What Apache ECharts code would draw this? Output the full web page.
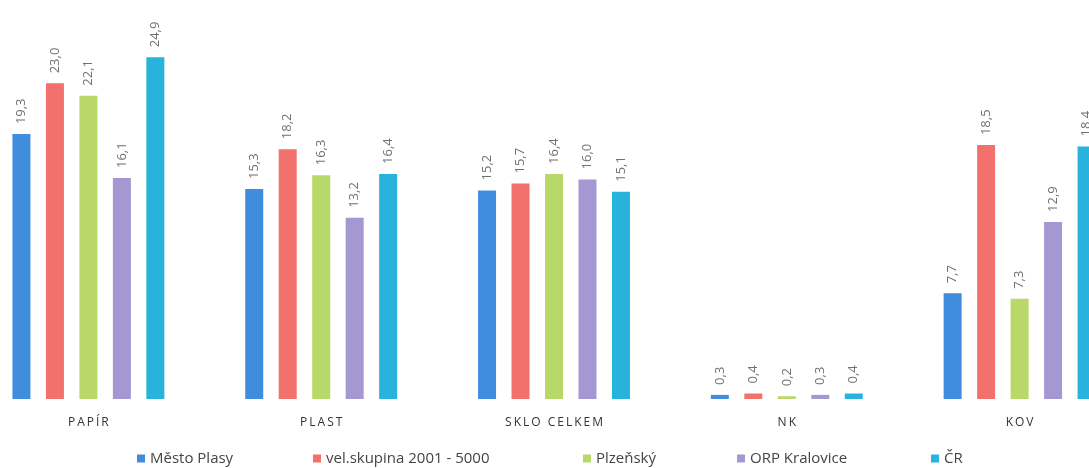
<!DOCTYPE html>
<html>
<head>
<meta charset="utf-8">
<script src="https://cdn.jsdelivr.net/npm/echarts@6/dist/echarts.min.js"></script>
<style>
html,body{margin:0;padding:0;background:#fff;overflow:hidden;width:1089px;height:468px;}
#chart{position:absolute;left:-28px;top:0;width:1164px;height:468px;}
</style>
</head>
<body>
<div id="chart"></div>
<script>
const categories = ['PAPÍR', 'PLAST', 'SKLO CELKEM', 'NK', 'KOV'];
const seriesNames = ['Město Plasy', 'vel.skupina 2001 - 5000', 'Plzeňský', 'ORP Kralovice', 'ČR'];
const mestoPlasy = [19.3, 15.3, 15.2, 0.3, 7.7];
const velSkupina = [23.0, 18.2, 15.7, 0.4, 18.5];
const plzensky   = [22.1, 16.3, 16.4, 0.2, 7.3];
const orpKralovice = [16.1, 13.2, 16.0, 0.3, 12.9];
const cr = [24.9, 16.4, 15.1, 0.4, 18.4];

const values = [mestoPlasy, velSkupina, plzensky, orpKralovice, cr];
const colors = ['#3f8ddc', '#f2716c', '#b8d86a', '#a597d2', '#27b3dc'];
const legendLeft = [165, 341, 611, 765, 959];

const chart = echarts.init(document.getElementById('chart'), null, {renderer: 'canvas'});
chart.setOption({
  animation: false,
  backgroundColor: '#ffffff',
  grid: {left: 0, right: 0, top: 1, bottom: 69, containLabel: false},
  xAxis: {
    type: 'category',
    data: categories,
    axisLine: {show: false},
    axisTick: {show: false},
    axisLabel: {
      color: '#333',
      fontSize: 12,
      fontFamily: 'Open Sans',
      margin: 18,
      formatter: v => v.split('').join('\u2009')
    }
  },
  yAxis: {type: 'value', min: 0, max: 29, show: false, splitLine: {show: false}},
  legend: seriesNames.map((n, i) => ({
    data: [n],
    top: 451,
    left: legendLeft[i],
    padding: 0,
    itemWidth: 8,
    itemHeight: 8,
    itemGap: 5,
    icon: 'rect',
    textStyle: {color: '#444', fontSize: 15, fontFamily: 'Open Sans'}
  })),
  series: seriesNames.map((n, i) => ({
    name: n,
    type: 'bar',
    data: values[i],
    barWidth: 18,
    barGap: '86%',
    itemStyle: {color: colors[i]},
    label: {
      show: true,
      position: 'top',
      rotate: 90,
      align: 'left',
      verticalAlign: 'middle',
      distance: 10,
      color: '#707070',
      fontSize: 13,
      fontFamily: 'Open Sans',
      formatter: p => p.value.toFixed(1).replace('.', ',')
    }
  }))
});
</script>
</body>
</html>
